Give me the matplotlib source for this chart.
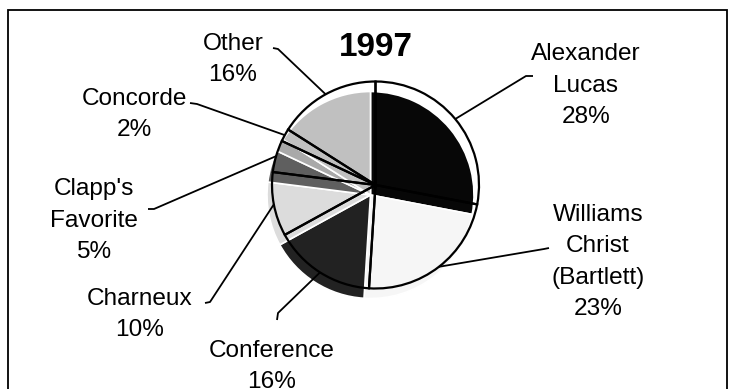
import matplotlib.pyplot as plt
import numpy as np
from matplotlib.patches import Rectangle

plt.rcParams["font.family"] = ["Liberation Sans", "DejaVu Sans"]

W, H = 735, 389  # canvas in pixels, y measured from the top in the lists below

varieties = ["Alexander\nLucas", "Williams\nChrist\n(Bartlett)", "Conference",
             "Charneux", "Clapp's\nFavorite", "Concorde", "Other"]
shares = [28, 23, 16, 10, 5, 2, 16]

face_colors = ["#070707", "#f6f6f6", "#222222", "#dcdcdc", "#5f5f5f", "#a9a9a9", "#c0c0c0"]
shade_colors = ["#070707", "#ececec", "#222222", "#ebebeb", "#7d7d7d", "#c8c8c8", "#c0c0c0"]

# label anchor: centre x, baseline of the last line (the percentage)
label_pos = [(586, 123), (598, 315), (272, 388), (140, 336), (94, 258), (134, 136), (233, 81)]
# leader line: start and small elbow next to the label
leader_start = [
    [(533, 76), (526, 76)],
    [(549, 248), (544, 249)],
    [(277, 320), (278, 313)],
    [(205, 303), (210, 302)],
    [(148, 209), (154, 209)],
    [(190, 103), (197, 104)],
    [(273, 48), (278, 49)],
]

cx, cy, r = 375.5, 185, 103.5   # outline circle
dx, dy = -5, 10                 # fill drawn slightly down-left of the outline


def up(y):
    return H - y


fig = plt.figure(figsize=(W / 100, H / 100), dpi=100)
ax = fig.add_axes([0, 0, 1, 1])

# shaded fill, shifted
shade, _ = ax.pie(shares, colors=shade_colors, center=(cx + dx, up(cy + dy)), radius=r,
                  startangle=90, counterclock=False, frame=True,
                  wedgeprops=dict(edgecolor="white", linewidth=1.2))
# same fill, but only where it falls inside the outlined slice
face, _ = ax.pie(shares, colors=face_colors, center=(cx + dx, up(cy + dy)), radius=r,
                 startangle=90, counterclock=False, frame=True,
                 wedgeprops=dict(edgecolor="white", linewidth=1.2))
outline, _ = ax.pie(shares, colors=["none"] * len(shares), center=(cx, up(cy)), radius=r,
                    startangle=90, counterclock=False, frame=True,
                    wedgeprops=dict(fill=False, edgecolor="black", linewidth=1.6))
for w in shade:
    w.set_zorder(1)
for w, o in zip(face, outline):
    w.set_zorder(2)
    w.set_clip_path(o)
for o in outline:
    o.set_zorder(3)

# leaders end on the outline at each slice's middle angle
total = sum(shares)
before = np.cumsum([0] + shares[:-1])
mid = np.deg2rad(90 - 360 * (before + np.array(shares) / 2) / total)
for (x, y), pts, ang, name, val in zip(label_pos, leader_start, mid, varieties, shares):
    ex, ey = cx + r * np.cos(ang), cy - r * np.sin(ang)
    xs = [p[0] for p in pts] + [ex]
    ys = [up(p[1]) for p in pts] + [up(ey)]
    ax.plot(xs, ys, color="black", linewidth=1.3, zorder=4, solid_capstyle="butt")
    ax.text(x, up(y), f"{name}\n{val}%", ha="center", va="baseline",
            fontsize=17.6, linespacing=1.55, zorder=5)

ax.text(376, up(56), "1997", ha="center", va="baseline", fontsize=24, fontweight="bold")

ax.add_patch(Rectangle((8, up(400)), 719, 390, fill=False, edgecolor="black",
                       linewidth=1.3, zorder=6))

ax.set_xlim(0, W)
ax.set_ylim(0, H)
ax.axis("off")

fig.savefig("out.png", dpi=100)
